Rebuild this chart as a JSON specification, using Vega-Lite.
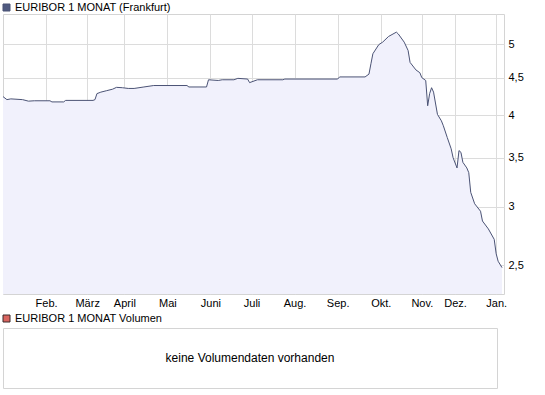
{
  "$schema": "https://vega.github.io/schema/vega-lite/v6.json",
  "padding": {"left": 0, "top": 1, "right": 0, "bottom": 0},
  "background": "#ffffff",
  "config": {
    "font": "Liberation Sans",
    "view": {"stroke": "#d4d4d4", "strokeWidth": 1},
    "axis": {"grid": true, "gridColor": "#dcdcdc", "gridWidth": 1, "ticks": false, "domain": false, "labelFont": "Liberation Sans", "labelFontSize": 11, "labelColor": "#000000", "title": null},
    "legend": {"orient": "none", "padding": 0, "symbolType": "square", "symbolSize": 49, "labelFont": "Liberation Sans", "labelFontSize": 11, "labelColor": "#000000", "labelOffset": 3, "title": null}
  },
  "spacing": 3,
  "resolve": {"scale": {"color": "independent"}, "legend": {"color": "independent"}},
  "vconcat": [
    {
      "width": 501,
      "height": 280,
      "data": {"values": [
        {"t": 0, "v": 4.24}, {"t": 2, "v": 4.20}, {"t": 4, "v": 4.21}, {"t": 10, "v": 4.20}, {"t": 13, "v": 4.18},
        {"t": 16, "v": 4.185}, {"t": 24, "v": 4.185}, {"t": 25, "v": 4.17}, {"t": 31, "v": 4.17}, {"t": 32, "v": 4.19},
        {"t": 46, "v": 4.19}, {"t": 47, "v": 4.20}, {"t": 48, "v": 4.28}, {"t": 50, "v": 4.30}, {"t": 53, "v": 4.32},
        {"t": 56, "v": 4.34}, {"t": 58, "v": 4.365}, {"t": 61, "v": 4.36}, {"t": 64, "v": 4.35}, {"t": 67, "v": 4.35},
        {"t": 72, "v": 4.37}, {"t": 77, "v": 4.39}, {"t": 94, "v": 4.39}, {"t": 95, "v": 4.37}, {"t": 104, "v": 4.37},
        {"t": 105, "v": 4.47}, {"t": 110, "v": 4.46}, {"t": 112, "v": 4.47}, {"t": 118, "v": 4.47}, {"t": 120, "v": 4.49},
        {"t": 125, "v": 4.48}, {"t": 126, "v": 4.43}, {"t": 130, "v": 4.47}, {"t": 143, "v": 4.47}, {"t": 144, "v": 4.48},
        {"t": 171, "v": 4.48}, {"t": 172, "v": 4.51}, {"t": 185, "v": 4.51}, {"t": 187, "v": 4.55}, {"t": 188, "v": 4.70},
        {"t": 189, "v": 4.85}, {"t": 192, "v": 4.99}, {"t": 194, "v": 5.03}, {"t": 197, "v": 5.12}, {"t": 201, "v": 5.19},
        {"t": 202, "v": 5.16}, {"t": 205, "v": 5.03}, {"t": 207, "v": 4.90}, {"t": 208, "v": 4.72}, {"t": 211, "v": 4.61},
        {"t": 213, "v": 4.57}, {"t": 214, "v": 4.50}, {"t": 216, "v": 4.46}, {"t": 217, "v": 4.12}, {"t": 218, "v": 4.28},
        {"t": 219, "v": 4.36}, {"t": 220, "v": 4.30}, {"t": 222, "v": 4.01}, {"t": 224, "v": 3.93}, {"t": 225, "v": 3.87},
        {"t": 227, "v": 3.73}, {"t": 229, "v": 3.60}, {"t": 230, "v": 3.50}, {"t": 232, "v": 3.39}, {"t": 233, "v": 3.58},
        {"t": 234, "v": 3.56}, {"t": 235, "v": 3.45}, {"t": 237, "v": 3.39}, {"t": 238, "v": 3.34}, {"t": 239, "v": 3.14},
        {"t": 241, "v": 3.03}, {"t": 244, "v": 2.96}, {"t": 245, "v": 2.87}, {"t": 248, "v": 2.80}, {"t": 251, "v": 2.71},
        {"t": 252, "v": 2.59}, {"t": 253, "v": 2.53}, {"t": 255, "v": 2.48}
      ]},
      "encoding": {
        "x": {
          "field": "t", "type": "quantitative",
          "scale": {"domain": [0, 256], "nice": false, "zero": false},
          "axis": {
            "values": [22, 43, 62, 84, 106, 127, 149, 171, 193, 214, 231, 252],
            "labelExpr": "['Feb.', 'März', 'April', 'Mai', 'Juni', 'Juli', 'Aug.', 'Sep.', 'Okt.', 'Nov.', 'Dez.', 'Jan.'][indexof([22, 43, 62, 84, 106, 127, 149, 171, 193, 214, 231, 252], datum.value)]",
            "labelPadding": 3, "labelOverlap": false, "labelFlush": false
          }
        },
        "y": {
          "field": "v", "type": "quantitative",
          "scale": {"type": "log", "domain": [2.283, 5.494], "nice": false, "zero": false},
          "axis": {
            "orient": "right",
            "values": [2.5, 3, 3.5, 4, 4.5, 5],
            "labelExpr": "replace(format(datum.value, '.1~f'), '.', ',')",
            "labelPadding": 4
          }
        }
      },
      "layer": [
        {"mark": {"type": "area", "color": "#f1f1fc", "line": false}, "encoding": {"y2": {"datum": 2.283}}},
        {
          "mark": {"type": "line", "strokeWidth": 1},
          "encoding": {
            "color": {
              "datum": "EURIBOR 1 MONAT (Frankfurt)",
              "scale": {"range": ["#4b5375"]},
              "legend": {
                "legendX": -2, "legendY": -12,
                "encode": {"symbols": {"update": {"fill": {"value": "#4f5a80"}, "stroke": {"value": "#2b2f45"}, "strokeWidth": {"value": 1}, "opacity": {"value": 1}}}}
              }
            }
          }
        }
      ]
    },
    {
      "width": 494,
      "height": 60,
      "view": {"stroke": "#d4d4d4", "strokeWidth": 1},
      "data": {"values": [{"label": "keine Volumendaten vorhanden"}]},
      "layer": [
        {"mark": {"type": "text", "fontSize": 12, "color": "#000000", "font": "Liberation Sans"}, "encoding": {"text": {"field": "label"}}},
        {
          "mark": {"type": "point", "shape": "square", "filled": true, "opacity": 0},
          "encoding": {
            "color": {
              "datum": "EURIBOR 1 MONAT Volumen",
              "scale": {"range": ["#d9645f"]},
              "legend": {
                "legendX": -2, "legendY": -15,
                "encode": {"symbols": {"update": {"fill": {"value": "#d9645f"}, "stroke": {"value": "#3a2a2a"}, "strokeWidth": {"value": 1}, "opacity": {"value": 1}}}}
              }
            }
          }
        }
      ]
    }
  ]
}
